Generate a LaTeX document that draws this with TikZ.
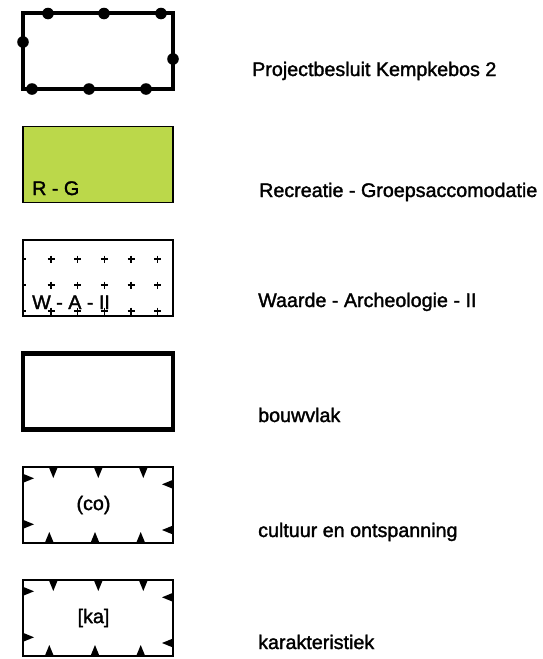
\documentclass[tikz,border=0pt]{standalone}
\usepackage{fontspec}
\setmainfont{Liberation Sans}
\newfontfamily\heavy{Liberation Sans}[FakeBold=1.6]
\definecolor{recgreen}{RGB}{187,216,74}
\begin{document}
\begin{tikzpicture}[x=1pt,y=-1pt,
  lbl/.style={anchor=base west, inner sep=0pt, font=\heavy\fontsize{19.7pt}{22pt}\selectfont},
  boxtxt/.style={inner sep=0pt, font=\heavy\fontsize{19.7pt}{22pt}\selectfont},
  legbox/.style={draw, minimum width=150pt, minimum height=76pt, inner sep=0pt, line width=1.1pt},
  thickbox/.style={legbox, line width=4.3pt},
  dot/.style={fill=black},
  tri/.style={fill=black}
]
\useasboundingbox (0,0) rectangle (543,659);

% Box 1: Projectbesluit
\node[thickbox] (b1) at (98,51) {};
\foreach \x in {48,104,161} \fill[dot] (\x,13.5) circle (5.8);
\foreach \x in {32,89,146} \fill[dot] (\x,89) circle (5.8);
\fill[dot] (23,42) circle (5.8);
\fill[dot] (173,59) circle (5.8);
\node[lbl] (l1) at (252,76) {Projectbesluit Kempkebos 2};

% Box 2: R - G
\node[legbox, fill=recgreen] (b2) at (98,164.5) {};
\node[boxtxt, anchor=base west] (t2) at (32,195) {R - G};
\node[lbl] (l2) at (259,197) {Recreatie - Groepsaccomodatie};

% Box 3: W - A - II
\node[legbox] (b3) at (98,278) {};
\begin{scope}
\clip (b3.south west) rectangle (b3.north east);
\foreach \x in {22.7,51,77.7,104.3,131,157.7}
  \foreach \y in {259,285,311}
    \draw[line width=1.3pt] ({\x-3.5},\y) -- ({\x+3.5},\y) (\x,{\y-3.5}) -- (\x,{\y+3.5});
\end{scope}
\node[boxtxt, anchor=base west] (t3) at (32,309) {W - A - II};
\node[lbl] (l3) at (258,307) {Waarde - Archeologie - II};

% Box 4: bouwvlak
\node[thickbox] (b4) at (98,391.5) {};
\node[lbl] (l4) at (258,422) {bouwvlak};

% Box 5 and 6 with triangles
\node[legbox] (b5) at (98,505) {};
\node[legbox] (b6) at (98,618) {};
\foreach \dy in {0,113} {
  \foreach \x in {53.3,98.3,143.3}
    \fill[tri] ({\x-4.5},{467+\dy}) -- ({\x+4.5},{467+\dy}) -- (\x,{478+\dy}) -- cycle;
  \foreach \x in {49.3,95,140.7}
    \fill[tri] ({\x-4.5},{543+\dy}) -- ({\x+4.5},{543+\dy}) -- (\x,{532+\dy}) -- cycle;
  \foreach \y in {478.3,524.3}
    \fill[tri] (23,{\y-4.5+\dy}) -- (23,{\y+4.5+\dy}) -- (34,{\y+\dy}) -- cycle;
  \foreach \y in {484.3,530}
    \fill[tri] (173,{\y-4.5+\dy}) -- (173,{\y+4.5+\dy}) -- (162,{\y+\dy}) -- cycle;
}
\node[boxtxt] (t5) at (93.5,505) {(co)};
\node[lbl] (l5) at (258,537) {cultuur en ontspanning};
\node[boxtxt] (t6) at (93.5,618) {[ka]};
\node[lbl] (l6) at (258,649) {karakteristiek};
\end{tikzpicture}
\end{document}
